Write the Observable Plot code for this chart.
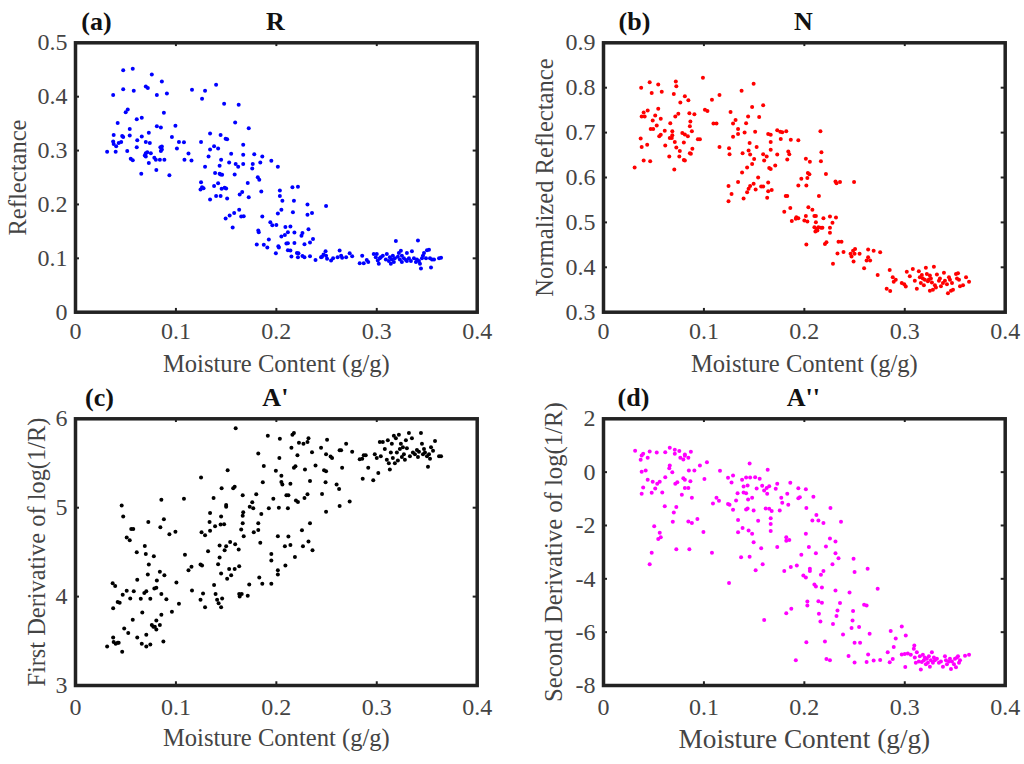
<!DOCTYPE html>
<html><head><meta charset="utf-8">
<script src="https://cdn.jsdelivr.net/npm/d3@7"></script>
<script src="https://cdn.jsdelivr.net/npm/@observablehq/plot@0.6"></script>
<style>
html,body{margin:0;padding:0;background:#fff}
#c{position:relative;width:1024px;height:764px;overflow:hidden}
#c>div{position:absolute}
svg{display:block;background:#fff;overflow:visible}
</style></head><body><div id="c"></div>
<script>
const moistureTicks=[0,0.1,0.2,0.3,0.4];
const reflectanceTicks=[0,0.1,0.2,0.3,0.4,0.5];
const normalizedTicks=[0.3,0.4,0.5,0.6,0.7,0.8,0.9];
const firstDerivTicks=[3,4,5,6];
const secondDerivTicks=[-8,-6,-4,-2,0,2];
const reflectance=[[.0315,.298],[.0375,.403],[.0475,.449],[.057,.452],[.0475,.414],[.058,.411],[.07,.419],[.072,.416],[.076,.441],[.086,.428],[.091,.406],[.081,.403],[.052,.376],[.05,.371],[.042,.351],[.061,.358],[.066,.361],[.088,.37],[.081,.345],[.085,.343],[.0995,.346],[.054,.34],[.054,.328],[.038,.329],[.0375,.317],[.038,.312],[.0405,.308],[.04,.298],[.043,.314],[.0455,.316],[.0465,.327],[.0475,.325],[.0515,.299],[.055,.285],[.057,.282],[.061,.306],[.0615,.319],[.066,.326],[.073,.333],[.07,.316],[.074,.314],[.07,.295],[.0715,.297],[.075,.295],[.069,.291],[.07,.289],[.073,.277],[.0655,.257],[.0785,.2865],[.08,.283],[.0805,.264],[.0845,.306],[.086,.3075],[.085,.299],[.086,.302],[.084,.283],[.0885,.283],[.0935,.254],[.096,.325],[.101,.304],[.103,.316],[.108,.3155],[.1085,.283],[.1125,.2945],[.1155,.2815],[.116,.413],[.129,.411],[.126,.396],[.14,.422],[.148,.387],[.1625,.385],[.159,.352],[.1725,.3415],[.125,.316],[.134,.3315],[.1445,.329],[.1495,.322],[.151,.321],[.138,.308],[.134,.302],[.142,.304],[.1325,.289],[.167,.311],[.155,.294],[.145,.283],[.153,.278],[.1435,.272],[.129,.27],[.1595,.275],[.162,.27],[.167,.292],[.167,.275],[.178,.293],[.1765,.275],[.176,.2665],[.184,.278],[.186,.289],[.195,.281],[.2015,.27],[.139,.2585],[.1435,.257],[.1445,.2555],[.146,.255],[.1585,.2555],[.1715,.24],[.1815,.2505],[.183,.246],[.125,.241],[.126,.232],[.1245,.2275],[.1275,.23],[.138,.234],[.142,.2395],[.1455,.229],[.1485,.231],[.15,.2295],[.166,.223],[.1635,.2185],[.185,.224],[.2035,.226],[.216,.232],[.2215,.233],[.14,.2155],[.1445,.2155],[.134,.209],[.151,.211],[.1725,.2135],[.2035,.2155],[.206,.207],[.2175,.207],[.231,.2],[.2495,.197],[.163,.19],[.205,.19],[.2015,.183],[.2165,.1855],[.231,.181],[.2355,.184],[.1495,.174],[.1535,.1795],[.158,.184],[.165,.1775],[.1675,.178],[.186,.1775],[.1565,.157],[.194,.167],[.196,.1615],[.2,.162],[.209,.158],[.214,.159],[.182,.1515],[.1825,.1485],[.2115,.1485],[.218,.148],[.205,.1405],[.2085,.1435],[.226,.147],[.225,.142],[.232,.154],[.2365,.136],[.1925,.135],[.2335,.1295],[.21,.1275],[.2115,.128],[.218,.1285],[.228,.126],[.1805,.1255],[.1875,.125],[.191,.12],[.202,.1225],[.2025,.12],[.1995,.1095],[.2115,.115],[.214,.1145],[.2205,.11],[.222,.1095],[.215,.1035],[.2215,.102],[.226,.1045],[.228,.102],[.2335,.104],[.239,.097],[.2445,.102],[.2455,.103],[.247,.107],[.249,.113],[.2495,.105],[.2505,.099],[.2545,.096],[.2565,.1],[.261,.102],[.263,.1145],[.2645,.105],[.2655,.101],[.2695,.102],[.273,.1095],[.2755,.104],[.283,.091],[.2855,.105],[.287,.091],[.29,.097],[.2915,.093],[.297,.108],[.299,.102],[.301,.096],[.302,.09],[.304,.102],[.3,.108],[.303,.1],[.306,.105],[.309,.098],[.31,.108],[.312,.095],[.313,.102],[.314,.09],[.315,.098],[.316,.105],[.317,.093],[.318,.1],[.319,.132],[.321,.103],[.322,.11],[.323,.098],[.324,.114],[.325,.105],[.327,.1],[.329,.097],[.33,.11],[.332,.1],[.334,.095],[.335,.113],[.337,.1],[.339,.093],[.341,.133],[.342,.095],[.343,.09],[.344,.081],[.345,.1],[.346,.105],[.347,.11],[.349,.1],[.35,.115],[.352,.116],[.353,.1],[.354,.083],[.355,.098],[.357,.098],[.362,.1],[.364,.101],[.34,.098],[.33,.095],[.325,.093]];
const normalized=[[.031,.622],[.0375,.8],[.046,.812],[.0545,.807],[.048,.788],[.058,.791],[.072,.814],[.0725,.803],[.07,.786],[.0765,.767],[.081,.781],[.0845,.772],[.099,.822],[.101,.751],[.1035,.748],[.108,.773],[.1155,.784],[.1375,.793],[.1495,.809],[.159,.761],[.148,.757],[.0545,.753],[.044,.749],[.04,.745],[.038,.736],[.041,.736],[.0515,.738],[.057,.731],[.049,.727],[.053,.716],[.047,.708],[.0495,.708],[.061,.704],[.0665,.721],[.0715,.736],[.0745,.742],[.0855,.743],[.0905,.741],[.0865,.725],[.086,.714],[.088,.703],[.057,.695],[.0555,.692],[.0685,.703],[.0685,.694],[.066,.688],[.068,.688],[.0785,.699],[.081,.696],[.084,.692],[.094,.685],[.096,.685],[.037,.687],[.038,.668],[.0435,.673],[.0615,.671],[.071,.679],[.0725,.667],[.08,.678],[.076,.659],[.0885,.664],[.086,.654],[.087,.653],[.04,.638],[.0465,.636],[.0655,.647],[.0755,.647],[.08,.639],[.081,.638],[.0705,.618],[.1095,.72],[.1125,.72],[.1265,.746],[.1315,.728],[.129,.72],[.134,.708],[.134,.697],[.129,.691],[.142,.721],[.144,.736],[.1405,.7],[.155,.735],[.151,.702],[.1155,.668],[.125,.665],[.1255,.652],[.1455,.677],[.1385,.654],[.1445,.66],[.146,.651],[.1525,.668],[.159,.652],[.1625,.647],[.148,.63],[.15,.641],[.143,.622],[.16,.638],[.138,.611],[.165,.621],[.1665,.619],[.171,.627],[.164,.697],[.1665,.695],[.173,.705],[.176,.702],[.178,.701],[.182,.703],[.1765,.686],[.1865,.684],[.194,.683],[.1665,.679],[.1665,.662],[.173,.651],[.184,.658],[.185,.652],[.183,.64],[.216,.703],[.217,.656],[.2165,.636],[.2015,.642],[.2055,.635],[.2035,.61],[.205,.607],[.203,.599],[.197,.597],[.194,.582],[.202,.582],[.2215,.608],[.231,.591],[.232,.587],[.2355,.59],[.2495,.59],[.154,.6],[.134,.59],[.1245,.581],[.1275,.563],[.1245,.547],[.146,.581],[.1445,.575],[.143,.567],[.1395,.553],[.1495,.586],[.1515,.573],[.157,.58],[.159,.58],[.164,.589],[.1675,.572],[.164,.5695],[.163,.555],[.1815,.559],[.183,.559],[.2145,.559],[.18,.5235],[.186,.532],[.1875,.503],[.192,.5115],[.1915,.508],[.194,.5095],[.2,.504],[.203,.502],[.2015,.514],[.204,.534],[.208,.528],[.21,.514],[.2115,.5145],[.2115,.5005],[.219,.509],[.2255,.513],[.2315,.511],[.228,.499],[.2255,.488],[.2255,.477],[.21,.489],[.211,.48],[.213,.482],[.214,.489],[.2165,.488],[.218,.488],[.212,.486],[.202,.451],[.2205,.452],[.222,.456],[.234,.457],[.237,.457],[.233,.431],[.2285,.408],[.239,.434],[.246,.43],[.247,.424],[.2485,.437],[.2505,.441],[.25,.43],[.249,.413],[.255,.43],[.2595,.398],[.2635,.4395],[.2635,.4225],[.262,.415],[.2655,.415],[.269,.437],[.2755,.4335],[.273,.383],[.285,.394],[.282,.352],[.2855,.347],[.288,.378],[.289,.368],[.291,.372],[.297,.365],[.2995,.362],[.301,.357],[.302,.39],[.305,.38],[.308,.396],[.31,.37],[.312,.352],[.314,.391],[.315,.378],[.316,.365],[.317,.383],[.318,.375],[.319,.36],[.32,.372],[.321,.399],[.322,.385],[.323,.369],[.324,.373],[.325,.348],[.325,.382],[.326,.375],[.327,.366],[.328,.35],[.329,.401],[.33,.36],[.331,.355],[.332,.384],[.334,.37],[.336,.358],[.338,.365],[.339,.388],[.34,.37],[.342,.362],[.343,.342],[.344,.378],[.345,.372],[.346,.348],[.348,.35],[.351,.385],[.352,.375],[.353,.387],[.354,.372],[.355,.358],[.358,.36],[.361,.378],[.364,.368],[.347,.365],[.335,.375]];
const firstDeriv=[[.0315,3.44],[.0375,3.54],[.038,3.49],[.04,3.47],[.042,3.48],[.043,3.48],[.0465,3.38],[.0485,3.64],[.0525,3.59],[.057,3.74],[.0615,3.54],[.066,3.47],[.0705,3.57],[.0705,3.44],[.0745,3.46],[.0665,3.82],[.076,3.68],[.0775,3.66],[.079,3.66],[.0805,3.63],[.0805,3.73],[.084,3.68],[.0855,3.795],[.0875,3.495],[.096,3.83],[.103,3.92],[.0375,3.87],[.042,3.94],[.044,3.93],[.037,4.15],[.0395,4.12],[.047,4.02],[.051,4.065],[.0545,3.98],[.058,4.06],[.0615,4.19],[.065,3.975],[.0685,4.04],[.0705,4.06],[.0745,3.975],[.072,4.25],[.073,4.36],[.0785,4.09],[.0805,4.1],[.081,4.18],[.084,4.28],[.0885,4.24],[.0855,4.03],[.0905,3.97],[.1005,4.16],[.061,4.5],[.069,4.57],[.07,4.48],[.078,4.455],[.051,4.665],[.054,4.635],[.0555,4.76],[.0575,4.76],[.0475,4.9],[.046,5.025],[.0725,4.84],[.0845,4.78],[.088,4.87],[.0855,5.09],[.0935,4.7],[.0995,4.73],[.108,5.1],[.109,4.47],[.1125,4.295],[.1155,4.335],[.116,4.07],[.1245,4.36],[.126,4.35],[.1245,3.965],[.127,4.035],[.129,3.88],[.125,5.34],[.1255,4.725],[.129,4.69],[.132,4.51],[.134,4.74],[.1335,4.84],[.134,4.94],[.1375,5.11],[.139,4.79],[.1445,4.81],[.148,4.815],[.145,4.9],[.1435,4.575],[.1435,4.44],[.142,4.365],[.145,4.26],[.138,4.13],[.1395,4.03],[.141,3.965],[.1425,3.925],[.146,3.98],[.145,3.88],[.1485,4.52],[.15,4.565],[.154,4.615],[.153,4.31],[.1585,4.31],[.151,4.2],[.155,4.24],[.163,4.34],[.1625,4.53],[.159,4.59],[.163,4.03],[.1635,4],[.1655,4.03],[.1715,4.01],[.173,4.135],[.1455,5.22],[.1515,5.42],[.15,5.03],[.15,5.01],[.157,5.22],[.1585,5.235],[.1665,5.14],[.1595,5.895],[.167,4.95],[.1665,4.91],[.1665,4.825],[.165,4.755],[.1675,4.68],[.1735,5.01],[.176,5.06],[.177,4.995],[.18,5.15],[.185,4.93],[.182,4.825],[.182,4.75],[.1775,4.725],[.184,4.605],[.195,4.48],[.195,4.405],[.183,4.215],[.186,4.145],[.195,4.145],[.2015,4.295],[.2015,4.25],[.209,4.35],[.212,4.675],[.2015,4.68],[.2085,4.565],[.214,4.58],[.2185,4.445],[.2255,4.745],[.2265,4.565],[.232,4.62],[.2335,4.825],[.236,4.52],[.182,5.61],[.1875,5.47],[.1865,5.285],[.197,5.1],[.1925,4.995],[.2025,5],[.2115,4.995],[.1995,5.415],[.203,5.56],[.2035,5.775],[.1915,5.81],[.205,5.36],[.205,5.29],[.206,5.26],[.214,5.27],[.21,5.14],[.212,5.14],[.2175,5.45],[.219,5.465],[.215,5.675],[.216,5.82],[.2175,5.84],[.221,5.59],[.2195,5.08],[.2215,5.065],[.228,5.11],[.231,5.15],[.2285,5.43],[.2335,5.3],[.2225,5.73],[.227,5.72],[.231,5.74],[.232,5.78],[.2355,5.625],[.239,5.475],[.2445,5.675],[.2455,5.155],[.249,5.285],[.2475,5.42],[.2495,5.41],[.2505,5.765],[.2495,5.6],[.254,5.575],[.2555,5.56],[.2495,4.955],[.26,5.26],[.2625,5.21],[.263,5.645],[.2645,5.645],[.2655,5.45],[.263,5.02],[.273,5.07],[.2695,5.72],[.2755,5.63],[.283,5.545],[.2855,5.55],[.287,5.59],[.289,5.59],[.286,5.325],[.2915,5.45],[.2965,5.31],[.298,5.6],[.3,5.56],[.3015,5.39],[.303,5.74],[.304,5.58],[.306,5.74],[.308,5.66],[.31,5.54],[.311,5.76],[.312,5.5],[.313,5.43],[.314,5.62],[.315,5.72],[.316,5.56],[.317,5.81],[.318,5.5],[.319,5.78],[.32,5.62],[.321,5.53],[.322,5.82],[.323,5.66],[.324,5.72],[.325,5.57],[.326,5.68],[.327,5.6],[.328,5.54],[.329,5.76],[.33,5.67],[.332,5.84],[.333,5.58],[.335,5.78],[.336,5.62],[.338,5.6],[.34,5.65],[.341,5.57],[.342,5.63],[.344,5.84],[.345,5.72],[.346,5.6],[.347,5.66],[.348,5.62],[.35,5.58],[.351,5.46],[.353,5.55],[.354,5.68],[.356,5.64],[.358,5.75],[.362,5.58],[.364,5.58],[.352,5.6]];
const secondDeriv=[[.0315,.8],[.0395,.69],[.038,.625],[.037,.46],[.044,.54],[.046,.775],[.053,.74],[.0615,.75],[.066,.91],[.071,.84],[.071,.69],[.0755,.79],[.066,.25],[.0655,.15],[.0765,.54],[.0795,.475],[.081,.66],[.081,.61],[.0845,.54],[.087,.76],[.038,.01],[.042,.06],[.0685,0],[.085,.06],[.0905,.06],[.096,.25],[.103,.375],[.044,-.29],[.049,-.36],[.056,-.36],[.0535,-.44],[.0615,-.19],[.0395,-.575],[.0515,-.61],[.038,-.81],[.048,-.775],[.0585,-.76],[.061,-1.275],[.0715,-.44],[.0735,-.375],[.0795,-.225],[.081,-.29],[.0865,-.34],[.081,-.59],[.0845,-.59],[.078,-.85],[.088,-.96],[.1005,-.26],[.0725,-1.31],[.07,-1.51],[.069,-1.86],[.0845,-1.85],[.088,-1.91],[.0935,-1.76],[.0995,-2.24],[.0505,-2.025],[.056,-2.275],[.057,-2.44],[.0545,-2.51],[.048,-3.025],[.046,-3.45],[.0725,-2.89],[.0855,-2.89],[.108,-3.025],[.109,-1.175],[.1125,-.96],[.115,-1.075],[.116,.05],[.124,-.21],[.129,-.125],[.1275,-.39],[.124,-1.19],[.1255,-1.225],[.129,-1.41],[.132,-1.06],[.1335,-.79],[.138,-.29],[.142,-.2],[.146,-.2],[.151,-.19],[.1555,-.25],[.1395,-.54],[.1435,-.5],[.1395,-.76],[.142,-.79],[.1525,-.61],[.158,-.51],[.16,-.69],[.1625,-.59],[.165,-.525],[.1635,.09],[.1455,.325],[.148,-.96],[.144,-1.025],[.163,-.81],[.1435,-1.36],[.142,-1.4],[.1495,-1.44],[.1615,-1.36],[.165,-1.375],[.1675,-1.46],[.1715,-.625],[.173,-.44],[.177,-.96],[.178,-1.15],[.1755,-1.44],[.183,-.81],[.184,-1.225],[.186,-.4],[.194,-.6],[.1955,-.94],[.194,-.975],[.2015,-.64],[.209,-.925],[.202,-1.34],[.226,-1.34],[.212,-1.61],[.208,-1.81],[.214,-1.81],[.219,-1.91],[.2365,-1.86],[.154,-1.825],[.134,-1.79],[.1385,-2.09],[.134,-2.25],[.1445,-2.19],[.148,-2.31],[.1495,-2.625],[.157,-2.85],[.1665,-1.725],[.1665,-1.94],[.1665,-2.21],[.137,-3.19],[.1455,-3.175],[.173,-2.81],[.1585,-3.45],[.1515,-3.675],[.182,-2.44],[.182,-2.575],[.185,-2.54],[.2015,-2.31],[.2045,-2.81],[.197,-3.1],[.2115,-3.04],[.2215,-2.79],[.2255,-2.49],[.231,-2.6],[.231,-3.04],[.234,-3.225],[.228,-3.45],[.1925,-3.5],[.1865,-3.56],[.18,-3.71],[.199,-3.875],[.2015,-3.95],[.2055,-3.625],[.2055,-3.71],[.219,-3.71],[.2165,-3.85],[.21,-4.21],[.2115,-4.29],[.2175,-4.325],[.249,-3.25],[.25,-3.74],[.263,-3.625],[.273,-4.375],[.125,-4.16],[.231,-4.44],[.245,-4.51],[.203,-4.85],[.203,-5],[.214,-4.84],[.2175,-4.9],[.2355,-4.91],[.2595,-4.975],[.262,-5],[.187,-5.125],[.182,-5.29],[.2145,-5.31],[.233,-5.19],[.232,-5.39],[.2485,-5.21],[.16,-5.54],[.216,-5.6],[.2285,-5.69],[.248,-5.56],[.247,-5.84],[.2545,-5.81],[.2385,-6.09],[.265,-6.06],[.286,-5.96],[.297,-5.79],[.301,-6.125],[.291,-6.24],[.3095,-6.5],[.202,-6.375],[.2205,-6.35],[.25,-6.4],[.2555,-6.4],[.289,-6.56],[.283,-6.75],[.1915,-7.05],[.222,-7.01],[.2255,-7.05],[.244,-6.89],[.2635,-6.84],[.25,-7.14],[.262,-7.12],[.269,-7.06],[.2755,-7.04],[.285,-7.125],[.288,-7.01],[.297,-6.84],[.3005,-7.31],[.3,-6.82],[.303,-6.8],[.306,-6.85],[.309,-6.62],[.31,-6.95],[.311,-7.15],[.312,-6.75],[.314,-7.1],[.315,-6.9],[.316,-7.4],[.317,-7.12],[.318,-6.85],[.319,-7.05],[.32,-6.95],[.321,-7.2],[.322,-7],[.323,-7.15],[.324,-6.9],[.325,-7.3],[.326,-7.05],[.327,-6.75],[.328,-7.15],[.329,-6.95],[.33,-7.05],[.332,-7],[.334,-7.15],[.336,-7.1],[.338,-7.3],[.34,-6.9],[.341,-7.05],[.342,-7.2],[.344,-7.1],[.345,-7],[.346,-7.38],[.347,-7.1],[.349,-7.2],[.35,-7],[.351,-7.32],[.352,-6.95],[.353,-6.9],[.354,-7.15],[.355,-7.05],[.36,-6.88],[.364,-6.85]];

const serif='"Liberation Serif","Times New Roman",serif';
const ink='#444';
function panel(o){
  const yd=[o.yt[0],o.yt[o.yt.length-1]], xd=[0,0.4];
  const yLen=(yd[1]-yd[0])*0.014, xLen=0.4*0.01;
  const plot=Plot.plot({
    width:512,height:o.h,marginLeft:o.ml,marginRight:o.mr,marginTop:o.mt,marginBottom:o.mb,
    style:{fontFamily:serif,background:'#fff',color:ink},
    x:{domain:xd},y:{domain:yd},
    marks:[
      Plot.dot(o.data,{x:d=>d[0],y:d=>d[1],r:2,fill:o.color,stroke:'none'}),
      Plot.ruleX(moistureTicks,{x:d=>d,y1:yd[0],y2:yd[0]+yLen,stroke:'#222',strokeWidth:2}),
      Plot.ruleX(moistureTicks,{x:d=>d,y1:yd[1],y2:yd[1]-yLen,stroke:'#222',strokeWidth:2}),
      Plot.ruleY(o.yt,{y:d=>d,x1:0,x2:xLen,stroke:'#222',strokeWidth:2}),
      Plot.ruleY(o.yt,{y:d=>d,x1:0.4,x2:0.4-xLen,stroke:'#222',strokeWidth:2}),
      Plot.frame({stroke:'#222',strokeWidth:3.5}),
      Plot.axisX(moistureTicks,{tickSize:0,tickPadding:o.xpad,fontSize:24,tickFormat:d=>String(d),
        label:'Moisture Content (g/g)',labelAnchor:'center',labelOffset:o.xlo,labelArrow:'none',fill:ink}),
      Plot.axisY(o.yt,{tickSize:0,tickPadding:o.ypad,fontSize:24,tickFormat:d=>String(d),
        label:o.ylabel,labelAnchor:'center',labelOffset:o.ylo,labelArrow:'none',fill:ink}),
      Plot.text([o.title],{frameAnchor:'top',dy:o.tdy,dx:-1,text:d=>d,fontSize:26,fontWeight:'bold',fill:'#111'}),
      Plot.text([o.tag],{frameAnchor:'top-left',dy:o.tdy,dx:o.gdx,text:d=>d,fontSize:26,fontWeight:'bold',fill:'#111',textAnchor:'middle'})
    ]
  });
  const labels=[...plot.querySelectorAll('text')].filter(t=>t.textContent===o.ylabel||t.textContent==='Moisture Content (g/g)');
  labels.forEach(t=>{const s=t.textContent===o.ylabel?o.ylfs:o.xlfs;t.setAttribute('font-size',s);t.style.fontSize=s+'px';});
  const host=document.createElement('div');
  host.style.left=o.left+'px';host.style.top=o.top+'px';
  host.appendChild(plot);document.getElementById('c').appendChild(host);
}
const top1={h:380,mt:42.3,mb:68.3,top:0,tdy:-31,xpad:9.5,xlo:60};
const top2={h:384,mt:38.3,mb:79,top:380,tdy:-31,xpad:12,xlo:60};
const left={ml:75,mr:35.3,left:0};
const right={ml:91,mr:19.3,left:512};
panel({...top1,...left,data:reflectance,yt:reflectanceTicks,color:'#0000ff',ylabel:'Reflectance',title:'R',tag:'(a)',gdx:21,ypad:8,ylo:67,ylfs:24.6,xlfs:24.6});
panel({...top1,...right,data:normalized,yt:normalizedTicks,color:'#ff0000',ylabel:'Normalized Reflectance',title:'N',tag:'(b)',gdx:31,ypad:8,ylo:68,ylfs:24.6,xlfs:24.6});
panel({...top2,...left,data:firstDeriv,yt:firstDerivTicks,color:'#000000',ylabel:'First Derivative of log(1/R)',title:"A'",tag:'(c)',gdx:24,ypad:8,ylo:48,ylfs:24.4,xlfs:24.6});
panel({...top2,...right,data:secondDeriv,yt:secondDerivTicks,color:'#ff00ff',ylabel:'Second Derivative of log(1/R)',title:"A''",tag:'(d)',gdx:30,ypad:8,ylo:59,ylfs:24.7,xlfs:27.3,xlo:62});
</script></body></html>
